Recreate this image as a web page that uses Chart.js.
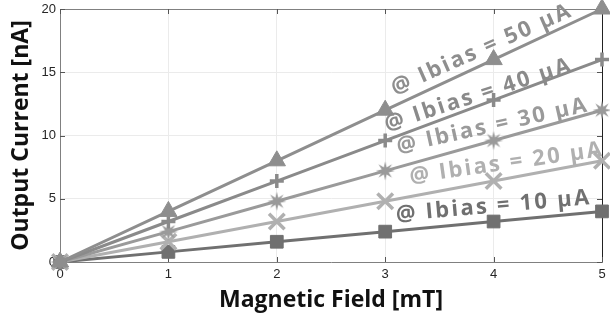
<!DOCTYPE html>
<html>
<head>
<meta charset="utf-8">
<script src="https://cdn.jsdelivr.net/npm/chart.js@4"></script>
<style>
html, body { margin: 0; padding: 0; background: #fff; }
#wrap { width: 610px; height: 322px; }
</style>
</head>
<body>
<div id="wrap"><canvas id="fieldChart" width="610" height="322"></canvas></div>
<script>
// Magnetic field steps [mT]
const fieldValues = [0, 1, 2, 3, 4, 5];

// Output current [nA] per bias current
const current50 = [0, 4, 8, 12, 16, 20];
const current40 = [0, 3.2, 6.4, 9.6, 12.8, 16];
const current30 = [0, 2.4, 4.8, 7.2, 9.6, 12];
const current20 = [0, 1.6, 3.2, 4.8, 6.4, 8];
const current10 = [0, 0.8, 1.6, 2.4, 3.2, 4];

const biasLabels = ['@ Ibias = 50 µA', '@ Ibias = 40 µA', '@ Ibias = 30 µA', '@ Ibias = 20 µA', '@ Ibias = 10 µA'];

const seriesColors = ['#8e8e8e', '#8a8a8a', '#9a9a9a', '#b0b0b0', '#707070'];

// where the inline labels sit (data coords) and their tilt in degrees
const labelSpots = [
    [3.88, 16.8, 24],
    [3.85, 13.2, 18],
    [3.98, 10.75, 12.5],
    [4.11, 7.8, 8],
    [3.99, 4.4, 5]
];

const toPoints = vals => vals.map((v, i) => ({ x: fieldValues[i], y: v }));

// small filled star used as marker for the 30 µA curve
function makeStar(color) {
    const c = document.createElement('canvas');
    c.width = 22;
    c.height = 22;
    const g = c.getContext('2d');
    g.fillStyle = color;
    g.beginPath();
    for (let k = 0; k < 16; k++) {
        const r = k % 2 === 0 ? 9.5 : 3.8;
        const ang = k * Math.PI / 8 - Math.PI / 2;
        const px = 11 + r * Math.cos(ang);
        const py = 11 + r * Math.sin(ang);
        if (k === 0) g.moveTo(px, py); else g.lineTo(px, py);
    }
    g.closePath();
    g.fill();
    return c;
}

const frameStyle = {
    id: 'frameStyle',
    beforeDatasetsDraw(chart) {
        const { ctx, chartArea: a, scales: { x, y } } = chart;
        ctx.save();
        ctx.lineWidth = 1;
        // top border
        ctx.strokeStyle = '#808080';
        ctx.beginPath();
        ctx.moveTo(a.left, a.top + 0.5);
        ctx.lineTo(a.right, a.top + 0.5);
        ctx.stroke();
        // right border
        ctx.strokeStyle = '#222';
        ctx.beginPath();
        ctx.moveTo(a.right + 0.5, a.top);
        ctx.lineTo(a.right + 0.5, a.bottom);
        ctx.stroke();
        // inward ticks on all four sides
        ctx.strokeStyle = '#555';
        const len = 5;
        x.ticks.forEach(t => {
            const px = Math.round(x.getPixelForValue(t.value)) + 0.5;
            ctx.beginPath();
            ctx.moveTo(px, a.bottom); ctx.lineTo(px, a.bottom - len);
            ctx.moveTo(px, a.top); ctx.lineTo(px, a.top + len);
            ctx.stroke();
        });
        y.ticks.forEach(t => {
            const py = Math.round(y.getPixelForValue(t.value)) + 0.5;
            ctx.beginPath();
            ctx.moveTo(a.left, py); ctx.lineTo(a.left + len, py);
            ctx.moveTo(a.right, py); ctx.lineTo(a.right - len, py);
            ctx.stroke();
        });
        ctx.restore();
    }
};

const inlineLabels = {
    id: 'inlineLabels',
    afterDatasetsDraw(chart) {
        const { ctx, scales: { x, y } } = chart;
        const targetLen = 194;
        ctx.save();
        ctx.font = 'bold 22px "Open Sans"';
        ctx.textAlign = 'center';
        ctx.textBaseline = 'middle';
        labelSpots.forEach((s, i) => {
            ctx.save();
            ctx.letterSpacing = '0px';
            const w = ctx.measureText(biasLabels[i]).width;
            const gap = Math.max(0, (targetLen - w) / (biasLabels[i].length - 1));
            ctx.letterSpacing = gap.toFixed(2) + 'px';
            ctx.translate(x.getPixelForValue(s[0]) + gap / 2, y.getPixelForValue(s[1]));
            ctx.rotate(-s[2] * Math.PI / 180);
            ctx.fillStyle = seriesColors[i];
            ctx.fillText(biasLabels[i], 0, 0);
            ctx.restore();
        });
        ctx.restore();
    }
};

const ctx = document.getElementById('fieldChart');

new Chart(ctx, {
    type: 'line',
    data: {
        datasets: [
            { label: biasLabels[0], data: toPoints(current50), pointStyle: 'triangle', pointRadius: 10, pointBorderWidth: 1 },
            { label: biasLabels[1], data: toPoints(current40), pointStyle: 'cross', pointRadius: 7, pointBorderWidth: 3.5 },
            { label: biasLabels[2], data: toPoints(current30), pointStyle: makeStar(seriesColors[2]), pointRadius: 9, pointBorderWidth: 0 },
            { label: biasLabels[3], data: toPoints(current20), pointStyle: 'crossRot', pointRadius: 11, pointBorderWidth: 3.5 },
            { label: biasLabels[4], data: toPoints(current10), pointStyle: 'rect', pointRadius: 9, pointBorderWidth: 1 }
        ].map((d, i) => Object.assign(d, {
            borderColor: seriesColors[i],
            backgroundColor: seriesColors[i],
            pointBackgroundColor: seriesColors[i],
            pointBorderColor: seriesColors[i],
            borderWidth: 3,
            tension: 0,
            clip: false
        }))
    },
    options: {
        responsive: false,
        animation: false,
        layout: {
            autoPadding: false,
            padding: { top: 9, right: 8, left: 0, bottom: 0 }
        },
        plugins: {
            legend: { display: false },
            tooltip: { enabled: false }
        },
        scales: {
            x: {
                type: 'linear',
                min: 0,
                max: 5,
                afterFit(scale) {
                    scale.height = 60;
                    scale.paddingLeft = 0;
                    scale.paddingRight = 0;
                },
                ticks: {
                    stepSize: 1,
                    padding: 5,
                    color: '#262626',
                    font: { family: 'Liberation Sans', size: 13 }
                },
                grid: { color: '#ebebeb', drawTicks: false },
                border: { color: '#808080', width: 1 },
                title: {
                    display: true,
                    text: 'Magnetic Field [mT]',
                    color: '#111',
                    font: { family: 'Open Sans', size: 23, weight: 'bold' },
                    padding: { top: 0, bottom: 8 }
                }
            },
            y: {
                min: 0,
                max: 20,
                afterFit(scale) {
                    scale.width = 60;
                    scale.paddingTop = 0;
                    scale.paddingBottom = 0;
                },
                ticks: {
                    stepSize: 5,
                    padding: 4,
                    color: '#262626',
                    font: { family: 'Liberation Sans', size: 13 }
                },
                grid: { color: '#ebebeb', drawTicks: false },
                border: { color: '#808080', width: 1 },
                title: {
                    display: true,
                    text: 'Output Current [nA]',
                    color: '#111',
                    font: { family: 'Open Sans', size: 23, weight: 'bold' },
                    padding: { top: 8, bottom: 0 }
                }
            }
        }
    },
    plugins: [frameStyle, inlineLabels]
});
</script>
</body>
</html>
